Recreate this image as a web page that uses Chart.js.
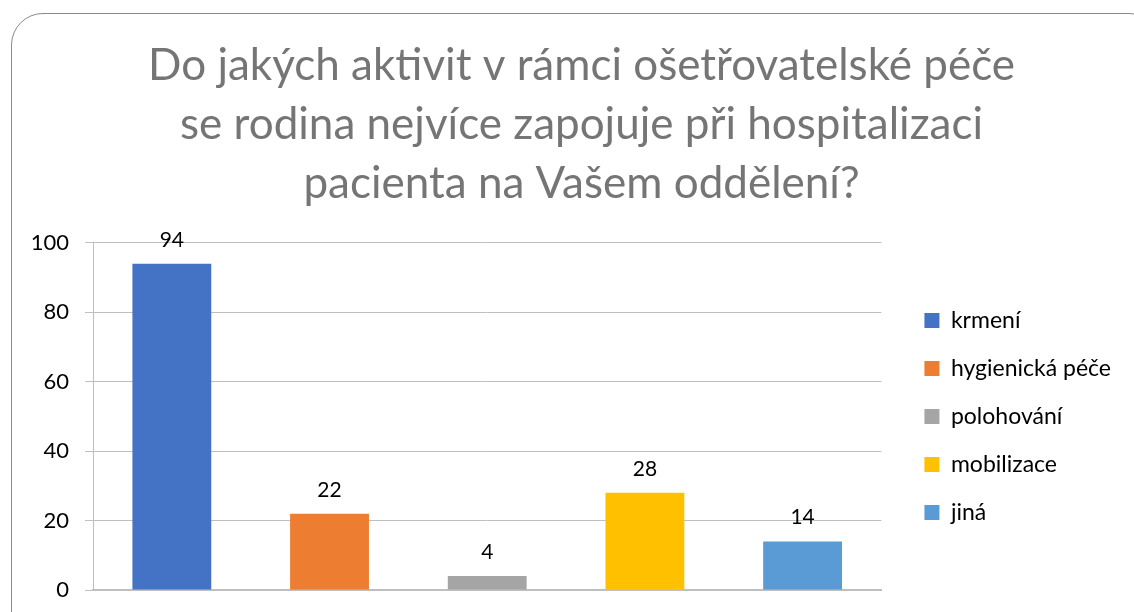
<!DOCTYPE html>
<html>
<head>
<meta charset="utf-8">
<script src="https://cdn.jsdelivr.net/npm/chart.js@4.4.0/dist/chart.umd.min.js"></script>
<style>
  html, body { margin: 0; padding: 0; background: #ffffff; }
  #wrap { position: relative; width: 1134px; height: 612px; overflow: hidden; }
  #frame { position: absolute; left: 11px; top: 13px; width: 1150px; height: 700px;
           border: 1px solid #8a8a8a; border-radius: 32px; box-sizing: border-box; }
  #c { position: absolute; left: 0; top: 0; }
</style>
</head>
<body>
<div id="wrap">
  <div id="frame"></div>
  <canvas id="c" width="1134" height="612"></canvas>
</div>
<script>
const titleLines = ["Do jakých aktivit v rámci ošetřovatelské péče", "se rodina nejvíce zapojuje při hospitalizaci", "pacienta na Vašem oddělení?"];
const categories = ["krmení", "hygienická péče", "polohování", "mobilizace", "jiná"];
const values = [94, 22, 4, 28, 14];
const colors = ["#4472C4", "#ED7D31", "#A5A5A5", "#FFC000", "#5B9BD5"];
const yTicks = [0, 20, 40, 60, 80, 100];

const FONT = "Lato, 'Open Sans', sans-serif";

const valueLabels = {
  id: 'valueLabels',
  afterDatasetsDraw(chart) {
    const ctx = chart.ctx;
    ctx.save();
    ctx.font = "21px " + FONT;
    ctx.fillStyle = "#000000";
    ctx.textAlign = "center";
    ctx.textBaseline = "alphabetic";
    chart.getDatasetMeta(0).data.forEach((bar, i) => {
      ctx.fillText(String(values[i]), bar.x, bar.y - 17);
    });
    ctx.restore();
  }
};

const legendTweak = {
  id: 'legendTweak',
  beforeLayout(chart) {
    const lg = chart.legend;
    if (lg && !lg._patched) {
      const orig = lg.fit.bind(lg);
      lg.fit = function () { orig(); this.width += 30; };
      lg._patched = true;
    }
  },
  afterLayout(chart) {
    const lg = chart.legend;
    if (lg) { lg.left += 18; lg.right += 18; }
  }
};

new Chart(document.getElementById('c'), {
  type: 'bar',
  data: {
    labels: categories,
    datasets: [{
      data: values,
      backgroundColor: colors,
      borderWidth: 0,
      categoryPercentage: 1,
      barPercentage: 0.5
    }]
  },
  options: {
    responsive: false,
    animation: false,
    layout: { padding: { left: 30, right: 1, top: 0, bottom: 22 } },
    plugins: {
      title: {
        display: true,
        text: titleLines,
        color: "#757575",
        font: { family: FONT, size: 44, weight: 'normal', lineHeight: 1.34 },
        padding: { top: 36, bottom: 30 }
      },
      legend: {
        position: 'right',
        align: 'center',
        fullSize: false,
        labels: {
          color: "#262626",
          font: { family: FONT, size: 23 },
          boxWidth: 15,
          boxHeight: 15,
          padding: 25,
          generateLabels(chart) {
            return categories.map((c, i) => ({
              text: c, fillStyle: colors[i], strokeStyle: colors[i], lineWidth: 0, index: i, hidden: false
            }));
          }
        }
      },
      tooltip: { enabled: false }
    },
    scales: {
      x: {
        ticks: { display: false },
        grid: { display: false, drawTicks: false },
        border: { display: true, color: "#bfbfbf", width: 2 }
      },
      y: {
        min: 0, max: 100,
        afterBuildTicks(scale) { scale.ticks = yTicks.map(v => ({ value: v })); },
        afterFit(scale) { scale.width = 63; scale.paddingBottom = 0; scale.paddingTop = 0; },
        ticks: { color: "#000000", font: { family: FONT, size: 22 }, padding: 16 },
        grid: { color: "#bfbfbf", tickLength: 8, lineWidth: 1 },
        border: { display: true, color: "#bfbfbf" }
      }
    }
  },
  plugins: [valueLabels, legendTweak]
});
</script>
</body>
</html>
